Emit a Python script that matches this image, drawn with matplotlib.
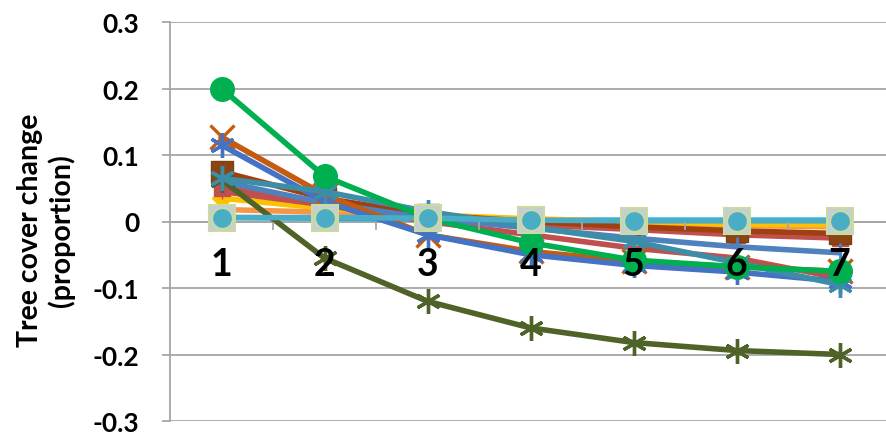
import matplotlib.pyplot as plt
import numpy as np

years = [1, 2, 3, 4, 5, 6, 7]
tick_labels = ['1', '2', '3', '4', '5', '6', '7']

# tree cover change per series
orange_s   = [0.018, 0.014, 0.008, 0.003, -0.003, -0.006, -0.008]
yellow_s   = [0.035, 0.020, 0.010, 0.004, 0.000, -0.004, -0.005]
red_s      = [0.050, 0.030, 0.006, -0.005, -0.012, -0.020, -0.025]
red2_s     = [0.045, 0.025, 0.000, -0.020, -0.040, -0.055, -0.085]
dbrown_s   = [0.075, 0.035, 0.010, 0.000, -0.008, -0.014, -0.018]
blue_s     = [0.060, 0.028, 0.005, -0.010, -0.025, -0.038, -0.047]
brown_x    = [0.127, 0.040, -0.020, -0.045, -0.060, -0.068, -0.075]
blue_star  = [0.115, 0.030, -0.020, -0.050, -0.066, -0.076, -0.090]
teal_star  = [0.065, 0.045, 0.015, -0.008, -0.030, -0.062, -0.095]
green_c    = [0.200, 0.068, 0.005, -0.032, -0.058, -0.068, -0.075]
olive_star = [0.063, -0.055, -0.120, -0.160, -0.182, -0.194, -0.200]
lblue_s    = [0.006, 0.005, 0.004, 0.002, 0.002, 0.002, 0.002]
cyan_sq    = [0.006, 0.006, 0.005, 0.002, 0.001, 0.001, 0.001]

star = (6, 2, 0)

fig = plt.figure(figsize=(8.86, 4.35), dpi=100)
ax = fig.add_axes([170/886, 13/435, 721/886, 399/435])

lw = 4
ax.plot(years, lblue_s, color='#00B0F0', lw=lw, marker='o', ms=6, zorder=3)
ax.plot(years, orange_s, color='#F79646', lw=lw, marker='s', ms=6, zorder=3)
ax.plot(years, yellow_s, color='#FFC000', lw=lw, marker='D', ms=10, zorder=3)
ax.plot(years, red_s, color='#C0504D', lw=lw, marker='s', ms=11, zorder=3)
ax.plot(years, dbrown_s, color='#A0400F', lw=lw, marker='s', ms=16,
        mfc='#8B4513', mec='#7F3F0F', zorder=3)
ax.plot(years, red2_s, color='#C0504D', lw=lw, marker='|', ms=10, zorder=3)
ax.plot(years, blue_s, color='#4F81BD', lw=lw, marker='|', ms=15, mew=2, zorder=3)
ax.plot(years, olive_star, color='#4F6228', lw=lw, marker=star, ms=18, mew=2.4, zorder=3)
ax.plot(years, brown_x, color='#C55A11', lw=lw, marker='x', ms=17, mew=2.4, zorder=3)
ax.plot(years, blue_star, color='#4472C4', lw=lw, marker=star, ms=18, mew=2.4, zorder=3)
ax.plot(years, teal_star, color='#3C8EA8', lw=lw, marker=star, ms=18, mew=2.4, zorder=3)
ax.plot(years, green_c, color='#00B050', lw=lw, marker='o', ms=17, zorder=3)
ax.plot(years, cyan_sq, color='#4BACC6', lw=lw, marker='s', ms=19,
        mfc='#C5CCDA', mec='#C8DCA0', mew=1.5, zorder=4)
ax.plot(years, cyan_sq, lw=0, marker='o', ms=15,
        mfc='#4BACC6', mec='#C8DCA0', mew=1.5, zorder=5)

ax.set_xlim(0.5, 7.5)
ax.set_ylim(-0.3, 0.3)
ax.set_yticks(np.arange(-0.3, 0.31, 0.1))
ax.set_yticklabels(['-0.3', '-0.2', '-0.1', '0', '0.1', '0.2', '0.3'],
                   fontsize=19, fontweight='bold', family='Lato')
ax.yaxis.grid(True, color='#A6A6A6', lw=1.3, zorder=0)
ax.set_axisbelow(True)
ax.xaxis.set_zorder(6)

ax.spines['top'].set_visible(False)
ax.spines['right'].set_visible(False)
ax.spines['left'].set_color('#A6A6A6')
ax.spines['left'].set_linewidth(1.3)
ax.spines['bottom'].set_position(('data', 0))
ax.spines['bottom'].set_color('#A6A6A6')
ax.spines['bottom'].set_linewidth(1.3)
ax.tick_params(axis='y', length=6, color='#A6A6A6', width=1.3, pad=16)

ax.set_xticks(years)
ax.set_xticklabels(tick_labels, fontsize=27, fontweight='bold', family='Lato')
ax.set_xticks([1.5, 2.5, 3.5, 4.5, 5.5, 6.5], minor=True)
ax.tick_params(axis='x', which='major', length=0, pad=18)
ax.tick_params(axis='x', which='minor', length=6, color='#A6A6A6', width=1.3)

fig.text(0.052, 0.47, 'Tree cover change\n(proportion)', rotation=90,
         ha='center', va='center', fontsize=20.5, fontweight='bold',
         family='Lato', linespacing=1.2)

fig.savefig('out.png', dpi=100)
